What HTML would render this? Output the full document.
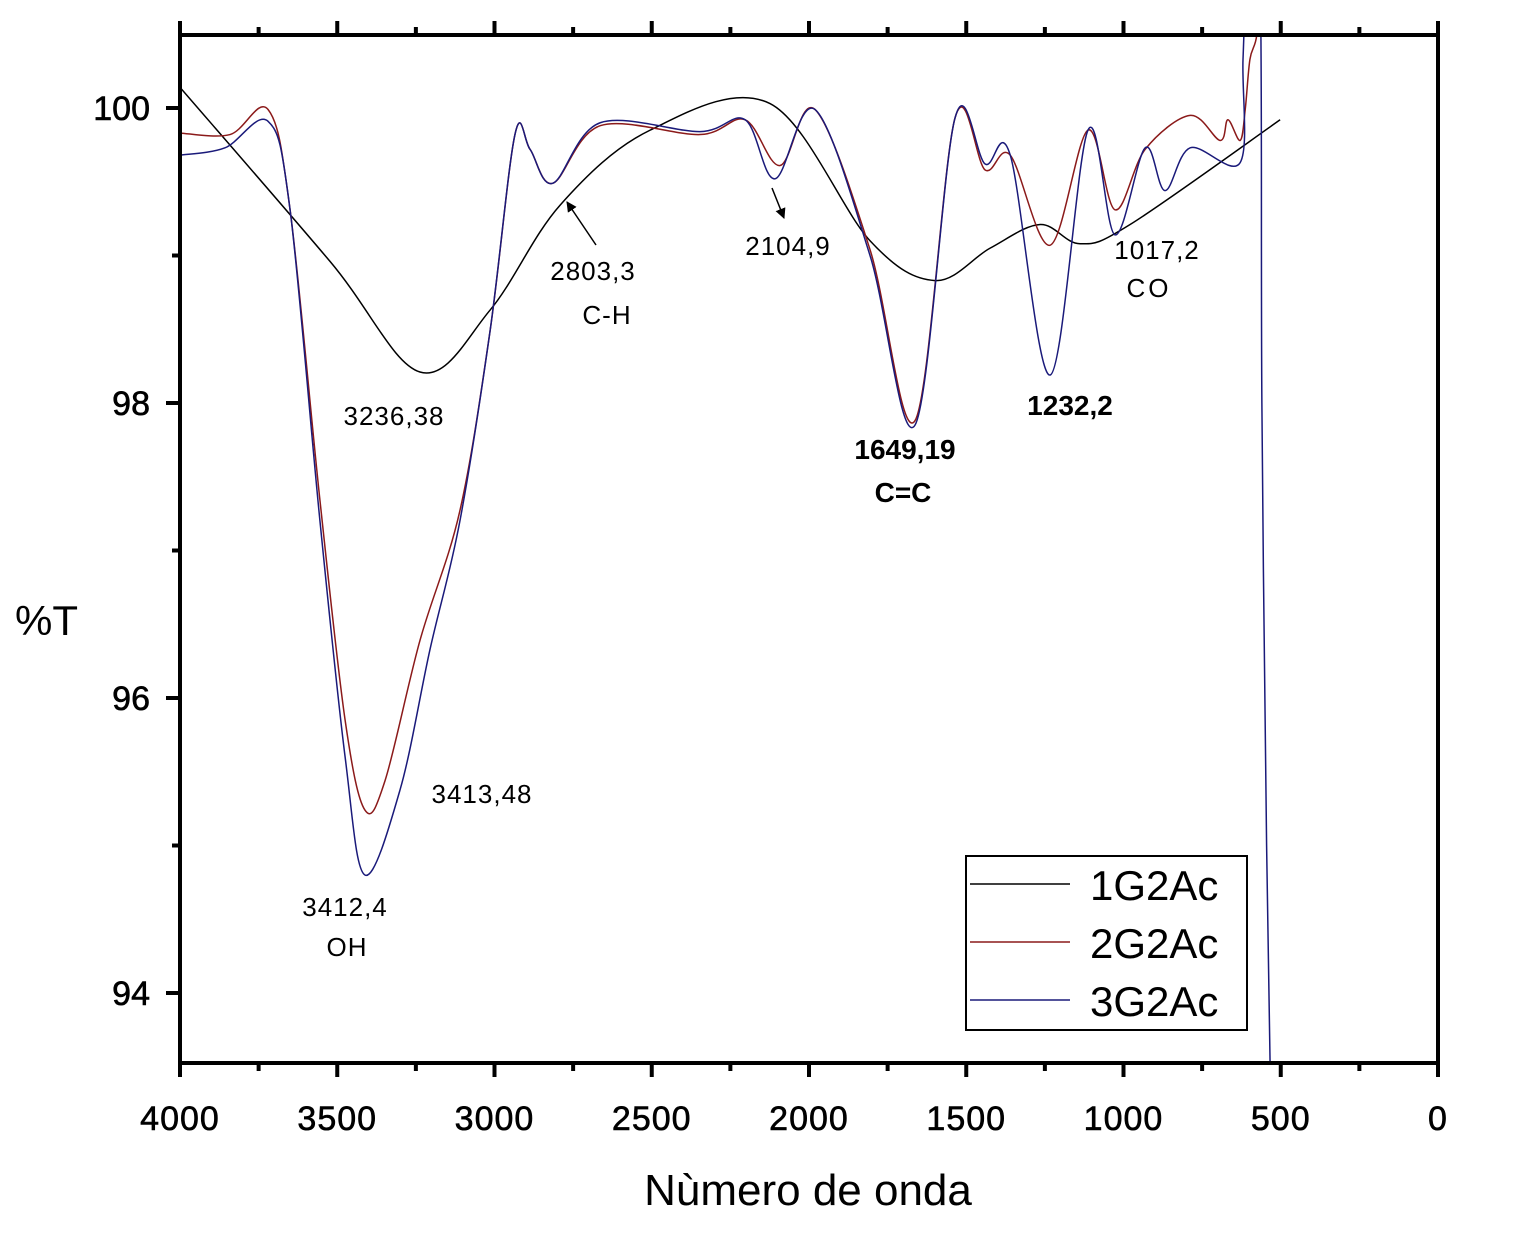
<!DOCTYPE html>
<html><head><meta charset="utf-8"><style>
body{margin:0;background:#fff}
svg{display:block;font-family:"Liberation Sans",sans-serif}
</style></head><body>
<svg id="chart" width="1518" height="1238" viewBox="0 0 1518 1238">
<defs><clipPath id="clip"><rect x="180" y="35" width="1258" height="1028"/></clipPath>
<marker id="arr" viewBox="0 0 10 10" refX="9" refY="5" markerWidth="7" markerHeight="7" orient="auto"><path d="M0,0L10,5L0,10z" fill="#000"/></marker></defs>
<g id="plot" clip-path="url(#clip)"></g>
<g id="axes"></g>
<g font-size="26" fill="#000" letter-spacing="1">
<text x="482" y="803" text-anchor="middle">3413,48</text>
<text x="345" y="916" text-anchor="middle">3412,4</text>
<text x="347" y="956" text-anchor="middle">OH</text>
<text x="394" y="425" text-anchor="middle">3236,38</text>
<text x="593" y="280" text-anchor="middle">2803,3</text>
<text x="607" y="324" text-anchor="middle">C-H</text>
<text x="788" y="255" text-anchor="middle">2104,9</text>
<text x="905" y="459" text-anchor="middle" font-weight="bold" font-size="28" letter-spacing="0">1649,19</text>
<text x="903" y="502" text-anchor="middle" font-weight="bold" font-size="28" letter-spacing="0">C=C</text>
<text x="1070" y="415" text-anchor="middle" font-weight="bold" font-size="28" letter-spacing="0">1232,2</text>
<text x="1157" y="259" text-anchor="middle">1017,2</text>
<text x="1149" y="297" text-anchor="middle" letter-spacing="3">CO</text>
<line x1="596" y1="245" x2="567" y2="202" stroke="#000" stroke-width="1.5" marker-end="url(#arr)"/>
<line x1="772" y1="188" x2="784" y2="218" stroke="#000" stroke-width="1.5" marker-end="url(#arr)"/>
</g>
<g>
<rect x="966" y="856" width="281" height="174" fill="#fff" stroke="#000" stroke-width="2"/>
<line x1="970" y1="884" x2="1070" y2="884" stroke="#000" stroke-width="1.5"/>
<text x="1090" y="900" font-size="42">1G2Ac</text>
<line x1="970" y1="942" x2="1070" y2="942" stroke="#8b1a1a" stroke-width="1.5"/>
<text x="1090" y="958" font-size="42">2G2Ac</text>
<line x1="970" y1="1000" x2="1070" y2="1000" stroke="#1a1a7a" stroke-width="1.5"/>
<text x="1090" y="1016" font-size="42">3G2Ac</text>
</g>
<text x="15" y="635" font-size="42">%T</text>
<text x="808" y="1205" font-size="44" text-anchor="middle">Nùmero de onda</text>
</svg>
<script>
const xTicks=[4000,3500,3000,2500,2000,1500,1000,500,0];
const yTicks=[94,96,98,100];
const s1wn=[4000,3523,3237,3014,2792,2505,2124,1806,1599,1424,1265,1138,979,502];
const s1T=[100.14,98.96,98.21,98.63,99.34,99.85,100.03,99.1,98.83,99.05,99.21,99.08,99.21,99.92];
const s2wn=[4000,3841,3720,3650,3555,3475,3412,3348,3237,3110,3014,2935,2887,2814,2664,2346,2203,2092,1981,1806,1663,1536,1440,1360,1233,1113,1027,931,788,693,668,629,613,598,576,570];
const s2T=[99.83,99.82,99.99,99.31,97.34,95.85,95.24,95.44,96.39,97.27,98.49,99.82,99.72,99.49,99.88,99.82,99.92,99.61,99.99,99.04,97.88,99.93,99.58,99.68,99.07,99.85,99.31,99.72,99.95,99.78,99.92,99.78,99.99,100.33,100.5,100.9];
const s3wn=[4000,3857,3720,3650,3555,3475,3412,3300,3205,3110,3014,2935,2887,2814,2664,2346,2203,2108,1981,1806,1663,1536,1440,1360,1233,1113,1027,931,868,788,629,620,605,566,560,545,530];
const s3T=[99.68,99.73,99.91,99.31,97.2,95.6,94.8,95.38,96.33,97.2,98.49,99.82,99.72,99.49,99.9,99.84,99.92,99.52,99.99,99.0,97.85,99.93,99.62,99.68,98.19,99.85,99.14,99.73,99.44,99.73,99.63,100.33,100.9,100.9,98.0,95.0,93.0];
const X=w=>180+(4000-w)*1258/4000;
const Y=t=>108+(100-t)*147.5;
const NS='http://www.w3.org/2000/svg';
function mk(tag,attrs,parent){const e=document.createElementNS(NS,tag);for(const k in attrs)e.setAttribute(k,attrs[k]);parent.appendChild(e);return e;}
function smooth(wn,T){const p=wn.map((w,i)=>[X(w),Y(T[i])]);let d='M'+p[0][0]+','+p[0][1];
for(let i=0;i<p.length-1;i++){const p0=p[i-1]||p[i],p1=p[i],p2=p[i+1],p3=p[i+2]||p2;
const c1=[p1[0]+(p2[0]-p0[0])/6,p1[1]+(p2[1]-p0[1])/6],c2=[p2[0]-(p3[0]-p1[0])/6,p2[1]-(p3[1]-p1[1])/6];
d+=`C${c1[0]},${c1[1]} ${c2[0]},${c2[1]} ${p2[0]},${p2[1]}`;}return d;}
const plot=document.getElementById('plot'),axes=document.getElementById('axes');
const l1=mk('path',{d:smooth(s1wn,s1T),fill:'none',stroke:'#000','stroke-width':1.5},plot);


const l2=mk('path',{d:smooth(s2wn,s2T),fill:'none',stroke:'#8b1a1a','stroke-width':1.5},plot);


const l3=mk('path',{d:smooth(s3wn,s3T),fill:'none',stroke:'#1a1a7a','stroke-width':1.5},plot);


mk('rect',{x:180,y:35,width:1258,height:1028,fill:'none',stroke:'#000','stroke-width':4},axes);
for(let w=4000;w>=0;w-=250){const major=w%500===0,x=X(w),L=major?14:8;
mk('line',{x1:x,y1:1063,x2:x,y2:1063+L,stroke:'#000','stroke-width':4},axes);
mk('line',{x1:x,y1:35,x2:x,y2:35-L,stroke:'#000','stroke-width':4},axes);}
xTicks.forEach(w=>{const t=mk('text',{x:X(w),y:1130,'font-size':34,'text-anchor':'middle','letter-spacing':1,stroke:'#000','stroke-width':0.6},axes);t.textContent=w;

});
for(let v=94;v<=100;v+=1){const y=Y(v);const L=v%2===0?14:8;
mk('line',{x1:180,y1:y,x2:180-L,y2:y,stroke:'#000','stroke-width':4},axes);}
yTicks.forEach(v=>{const t=mk('text',{x:150,y:Y(v)+12,'font-size':34,'text-anchor':'end',stroke:'#000','stroke-width':0.6},axes);t.textContent=v;

});
</script>
</body></html>
